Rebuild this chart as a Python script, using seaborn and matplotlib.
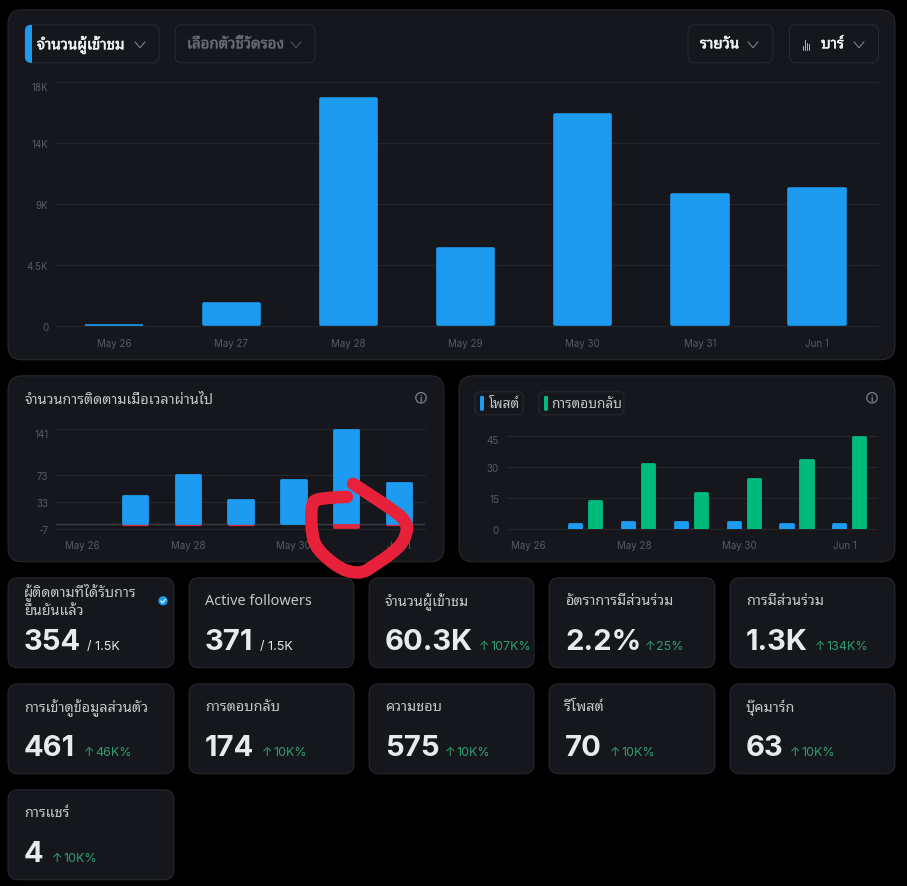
import matplotlib
matplotlib.use("Agg")
import logging
import matplotlib.patheffects as pe
import matplotlib.pyplot as plt
import numpy as np
import pandas as pd
import seaborn as sns
from matplotlib.lines import Line2D
from matplotlib.patches import Circle, FancyBboxPatch, Rectangle
from matplotlib.transforms import ScaledTranslation

logging.getLogger("matplotlib.font_manager").setLevel(logging.ERROR)

# ---- chart data ----
days = ["May 26", "May 27", "May 28", "May 29", "May 30", "May 31", "Jun 1"]
viewers = [140, 1770, 16900, 5830, 15700, 9810, 10250]
viewer_ticks = [0, 4500, 9000, 13500, 18000]
viewer_tick_labels = ["0", "4.5K", "9K", "14K", "18K"]

follows_gained = [0, 44, 75, 37, 67, 141, 63]
follows_lost = [0, -2, -2, -2, 0, -7, -2]
follow_ticks = [-7, 33, 73, 141]

posts = [0, 3, 4, 4, 4, 3, 3]
replies = [0, 14, 32, 18, 25, 34, 45]
activity_ticks = [0, 15, 30, 45]

# ---- stat tiles ----
tile_titles = ["ผู้ติดตามที่ได้รับการ\nยืนยันแล้ว", "Active followers", "จำนวนผู้เข้าชม",
               "อัตราการมีส่วนร่วม", "การมีส่วนร่วม", "การเข้าดูข้อมูลส่วนตัว", "การตอบกลับ",
               "ความชอบ", "รีโพสต์", "บุ๊คมาร์ก", "การแชร์"]
tile_values = ["354", "371", "60.3K", "2.2%", "1.3K", "461", "174", "575", "70", "63", "4"]
tile_notes = ["/ 1.5K", "/ 1.5K", "107K%", "25%", "134K%", "46K%", "10K%", "10K%", "10K%", "10K%", "10K%"]
tile_gains = [False, False, True, True, True, True, True, True, True, True, True]
tile_note_x = [87, 260, 490, 656, 826, 95, 273, 456.5, 621, 801, 63]

# ---- palette and fonts ----
PAGE = "#000000"
CARD = "#16171c"
EDGE = "#2a2b30"
GRID = "#24252b"
BLUE = "#1d9bf0"
GREEN = "#00ba7c"
RED = "#e0283f"
TICK = "#595b60"
LABEL = "#c4c5c8"
WHITE = "#e9eaec"
NOTE_GREEN = "#2f9e6e"
THAI = ["Noto Sans Thai Looped", "IBM Plex Sans Thai Looped", "Loma", "Liberation Sans", "DejaVu Sans"]
LATIN = ["Inter", "Liberation Sans", "DejaVu Sans"]
BOLDER = [pe.withStroke(linewidth=0.35, foreground="#f2f3f4")]
BOLDER_DIM = [pe.withStroke(linewidth=0.35, foreground="#66686e")]

sns.set_theme(style="dark")
plt.rcParams["font.family"] = LATIN

W, H = 907, 887
NUDGE_Y = 0.8
fig = plt.figure(figsize=(W / 100, H / 100), dpi=100, facecolor=PAGE)


def pixel_layer(zorder):
    """A full-figure axes addressed in pixels from the top-left corner."""
    layer = fig.add_axes([0, 0, 1, 1], zorder=zorder)
    layer.set_xlim(0, W)
    layer.set_ylim(H - NUDGE_Y, -NUDGE_Y)
    layer.axis("off")
    layer.patch.set_alpha(0)
    return layer


back = pixel_layer(0)
front = pixel_layer(10)


def box(x0, y0, x1, y1, radius, face=CARD, edge=EDGE, lw=0.7, layer=back):
    patch = FancyBboxPatch((x0, y0), x1 - x0, y1 - y0,
                           boxstyle=f"round,pad=0,rounding_size={radius}",
                           facecolor=face, edgecolor=edge, linewidth=lw)
    layer.add_patch(patch)
    return patch


def chevron(cx, cy, color):
    back.add_line(Line2D([cx - 5, cx, cx + 5], [cy - 3, cy + 3, cy - 3], color=color, lw=0.8))


def info_icon(cx, cy):
    back.add_patch(Circle((cx, cy), 5.2, facecolor="none", edgecolor="#7d7f84", lw=0.9))
    back.text(cx, cy + 0.3, "i", color="#7d7f84", fontsize=6.5, ha="center", va="center", weight="bold")


def chart_axes(left, top, right, bottom):
    top, bottom = top + NUDGE_Y, bottom + NUDGE_Y
    ax = fig.add_axes([left / W, 1 - bottom / H, (right - left) / W, (bottom - top) / H], zorder=5)
    ax.patch.set_alpha(0)
    return ax


def finish_chart(ax, xlim, ylim, ticks, labels, every=1, x_pad=8.2, x_shift=0.0):
    ax.set_xlim(*xlim)
    ax.set_ylim(*ylim)
    ax.set_yticks(ticks, labels)
    ax.set_xticks(range(0, len(days), every), days[::every])
    ax.set_xlabel("")
    ax.set_ylabel("")
    ax.set_axisbelow(True)
    ax.grid(False)
    ax.yaxis.grid(True, color=GRID, lw=0.9)
    for line in ax.get_ygridlines():
        line.set_clip_on(False)
    ax.tick_params(axis="y", length=0, pad=5.5, labelsize=7, labelcolor=TICK)
    ax.tick_params(axis="x", length=0, pad=x_pad, labelsize=7, labelcolor=TICK)
    for spine in ax.spines.values():
        spine.set_visible(False)
    # the top tick label hangs just under its gridline
    ax.get_yticklabels()[-1].set_va("top")
    if x_shift:
        offset = ScaledTranslation(x_shift / 100, 0, fig.dpi_scale_trans)
        for label in ax.get_xticklabels():
            label.set_transform(label.get_transform() + offset)


def round_bars(ax, radius_px):
    """Round bar corners with a round-joined edge, keeping the outer size of each bar."""
    box_px = ax.get_window_extent()
    x0, x1 = ax.get_xlim()
    y0, y1 = ax.get_ylim()
    per_x = (x1 - x0) / box_px.width
    per_y = (y1 - y0) / box_px.height
    for bar in ax.patches:
        height = bar.get_height()
        if height == 0:
            bar.set_visible(False)
            continue
        r = min(radius_px, abs(height) / per_y * 0.45)
        sign = 1 if height > 0 else -1
        bar.set_x(bar.get_x() + r * per_x)
        bar.set_width(bar.get_width() - 2 * r * per_x)
        bar.set_y(bar.get_y() + sign * r * per_y)
        bar.set_height(height - sign * 2 * r * per_y)
        bar.set_edgecolor(bar.get_facecolor())
        bar.set_linewidth(2 * r * 72 / fig.dpi)
        bar.set_joinstyle("round")


def smooth(xs, ys, passes=1):
    """Corner-cutting pass so the freehand stroke reads as one curve."""
    pts = np.column_stack([xs, ys]).astype(float)
    for _ in range(passes):
        q = 0.75 * pts[:-1] + 0.25 * pts[1:]
        r = 0.25 * pts[:-1] + 0.75 * pts[1:]
        mid = np.empty((q.shape[0] * 2, 2))
        mid[0::2], mid[1::2] = q, r
        pts = np.vstack([pts[0], mid, pts[-1]])
    return pts[:, 0], pts[:, 1]


# ---- main viewers chart ----
box(8, 10, 895, 360, 14)
ax_main = chart_axes(56, 82, 878, 326)
sns.barplot(x=days, y=viewers, color=BLUE, saturation=1, width=0.503, errorbar=None, ax=ax_main)
finish_chart(ax_main, (-0.495, 6.52), (0, 18000), viewer_ticks, viewer_tick_labels, x_pad=8.8)
round_bars(ax_main, 1.8)

box(25, 25, 159, 63, 7, face="none")
box(175, 25, 315, 63, 7, face="none")
box(688, 25, 773, 63, 7, face="none")
box(789.5, 25, 878.5, 63, 7, face="none")
accent = box(25, 25, 45, 63, 6, face=BLUE, edge="none", lw=0)
accent.set_clip_path(Rectangle((25, 25), 6.5, 38, transform=back.transData))
back.text(37, 45, "จำนวนผู้เข้าชม", family=THAI, weight="bold", color="#f2f3f4", fontsize=10.8,
          va="center", path_effects=BOLDER)
chevron(140, 45, "#7d7f84")
back.text(187, 45, "เลือกตัวชี้วัดรอง", family=THAI, weight="bold", color="#66686e", fontsize=10.8,
          va="center", path_effects=BOLDER_DIM)
chevron(296, 45, "#505257")
back.text(700, 45, "รายวัน", family=THAI, weight="bold", color="#f2f3f4", fontsize=10.8,
          va="center", path_effects=BOLDER)
chevron(753, 45, "#7d7f84")
for x, top in zip([803, 805, 807, 809], [46, 40, 43, 44]):
    back.add_line(Line2D([x, x], [top, 50], color="#b5b6ba", lw=0.7))
back.text(821, 45, "บาร์", family=THAI, weight="bold", color="#f2f3f4", fontsize=10.8,
          va="center", path_effects=BOLDER)
chevron(859, 45, "#7d7f84")

# ---- followers over time ----
box(8, 376, 444, 562, 14)
back.text(25, 400, "จำนวนการติดตามเมื่อเวลาผ่านไป", family=THAI, color=LABEL, fontsize=10.3, va="center")
info_icon(421, 398)
ax_follow = chart_axes(56, 429, 425, 529)
ax_follow.axhline(0, color="#3b3c42", lw=1.0, zorder=0.9)
sns.barplot(x=days, y=follows_gained, color=BLUE, saturation=1, width=0.515, errorbar=None, ax=ax_follow)
sns.barplot(x=days, y=follows_lost, color=RED, saturation=1, width=0.515, errorbar=None, ax=ax_follow)
finish_chart(ax_follow, (-0.496, 6.49), (-7, 141), follow_ticks, [str(t) for t in follow_ticks], every=2, x_pad=8)
round_bars(ax_follow, 1.4)

# ---- posts and replies ----
box(459, 376, 895, 562, 14)
info_icon(872, 398)
box(475, 392, 523, 415, 5, face="none")
box(539, 392, 624, 415, 5, face="none")
box(480, 396, 484, 411, 1.5, face=BLUE, edge="none", lw=0)
box(544, 396, 548, 411, 1.5, face=GREEN, edge="none", lw=0)
back.text(489, 404, "โพสต์", family=THAI, color=LABEL, fontsize=9.8, va="center")
back.text(551, 404, "การตอบกลับ", family=THAI, color=LABEL, fontsize=9.8, va="center")

activity = pd.DataFrame({"day": days, "โพสต์": posts, "การตอบกลับ": replies}).melt(
    id_vars="day", var_name="series", value_name="count")
ax_activity = chart_axes(506.7, 435.7, 876.7, 529.3)
sns.barplot(data=activity, x="day", y="count", hue="series", order=days, hue_order=["โพสต์", "การตอบกลับ"],
            palette=[BLUE, GREEN], saturation=1, width=0.758, gap=0.25, errorbar=None, legend=False, ax=ax_activity)
finish_chart(ax_activity, (-0.487, 6.52), (0, 45), activity_ticks, [str(t) for t in activity_ticks],
             every=2, x_pad=8, x_shift=-4)
round_bars(ax_activity, 1.4)

# ---- stat tiles ----
tile_x = [(8, 174), (189, 354), (369, 534), (549, 715), (730, 895)]
tile_y = [(578, 668), (684, 774), (790, 880)]
for i, title in enumerate(tile_titles):
    x0, x1 = tile_x[i % 5]
    y0, y1 = tile_y[i // 5]
    box(x0, y0, x1, y1, 10)
    text_x = x0 + 16
    if "\n" in title:
        first, second = title.split("\n")
        back.text(text_x, y0 + 13, first, family=THAI, color=LABEL, fontsize=10.3, va="center")
        back.text(text_x, y0 + 33, second, family=THAI, color=LABEL, fontsize=10.3, va="center")
    else:
        back.text(text_x, y0 + 23, title, family=THAI, color=LABEL, fontsize=10.4, va="center")
    base = y0 + 71
    back.text(text_x, base, tile_values[i], family=LATIN, weight="bold", color=WHITE, fontsize=21, va="baseline")
    if tile_gains[i]:
        back.text(tile_note_x[i] - 11.5, base, "↑", family=LATIN, color=NOTE_GREEN, fontsize=9, va="baseline")
    back.text(tile_note_x[i], base, tile_notes[i], family=LATIN, color=NOTE_GREEN if tile_gains[i] else WHITE,
              fontsize=9, va="baseline")

# verified badge on the first tile
back.add_patch(Circle((163, 601), 4.6, facecolor=BLUE, edgecolor="none"))
back.add_line(Line2D([160.8, 162.6, 165.4], [601.2, 603, 599.4], color="#dfeefb", lw=0.9))

# ---- hand-drawn red ring over the follower chart ----
ring_x = [347, 328, 315, 312, 311, 312, 315, 323, 335, 348, 363, 375, 390, 403, 408, 403, 388, 373, 353]
ring_y = [497, 498, 500, 505, 517, 533, 545, 555, 565, 572, 573, 565, 555, 543, 528, 518, 507, 497, 484]
ring_x, ring_y = smooth(ring_x, ring_y)
front.add_line(Line2D(ring_x, ring_y, color="#e8213a", lw=9.0, solid_capstyle="round", solid_joinstyle="round"))

fig.savefig("out.png", dpi=100, facecolor=PAGE)
